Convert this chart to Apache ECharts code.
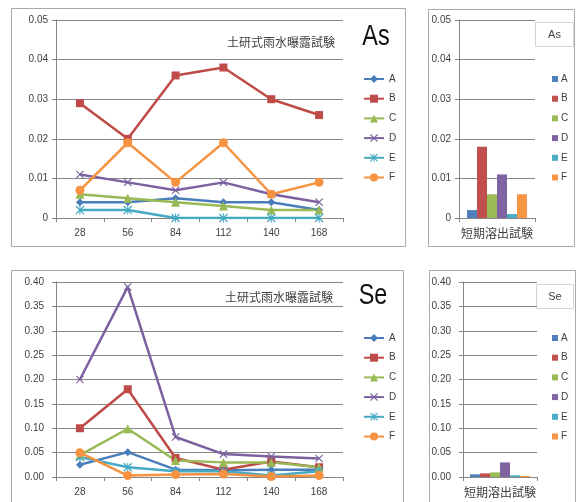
<!DOCTYPE html>
<html><head><meta charset="utf-8">
<script src="https://cdn.jsdelivr.net/npm/echarts@6/dist/echarts.min.js"></script>
<style>
html,body{margin:0;padding:0;background:#fff;width:578px;height:502px;overflow:hidden}
.c{position:absolute;left:0;top:0;width:578px;height:502px}
</style>
</head><body>
<div id="c1" class="c"></div>
<div id="c2" class="c"></div>
<div id="c3" class="c"></div>
<div id="c4" class="c"></div>
<script>
// ---- data ----
const days = ['28', '56', '84', '112', '140', '168'];
const seriesNames = ['A', 'B', 'C', 'D', 'E', 'F'];
const rainTitle = '土研式雨水曝露試験';
const shortTitle = '短期溶出試験';

const rainAsA = [0.004, 0.004, 0.005, 0.004, 0.004, 0.002];
const rainAsB = [0.029, 0.020, 0.036, 0.038, 0.030, 0.026];
const rainAsC = [0.006, 0.005, 0.004, 0.003, 0.002, 0.002];
const rainAsD = [0.011, 0.009, 0.007, 0.009, 0.006, 0.004];
const rainAsE = [0.002, 0.002, 0.000, 0.000, 0.000, 0.000];
const rainAsF = [0.007, 0.019, 0.009, 0.019, 0.006, 0.009];

const rainSeA = [0.025, 0.051, 0.015, 0.014, 0.015, 0.015];
const rainSeB = [0.100, 0.180, 0.039, 0.015, 0.032, 0.020];
const rainSeC = [0.045, 0.099, 0.034, 0.030, 0.030, 0.020];
const rainSeD = [0.200, 0.390, 0.082, 0.047, 0.042, 0.038];
const rainSeE = [0.041, 0.020, 0.012, 0.012, 0.003, 0.012];
const rainSeF = [0.050, 0.003, 0.005, 0.006, 0.001, 0.003];

const shortAs = [0.002, 0.018, 0.006, 0.011, 0.001, 0.006];
const shortSe = [0.0055, 0.0075, 0.0095, 0.030, 0.0035, 0.002];

const asTicks = [0, 0.05, 0.01];   // min, max, interval
const seTicks = [0, 0.40, 0.05];

// ---- styles ----
const lineColors = ['#4A7EBB', '#BE4B48', '#98B954', '#7D60A0', '#46AAC5', '#F69240'];
const barColors = ['#4F81BD', '#C0504D', '#9BBB59', '#8064A2', '#4BACC6', '#F79646'];
const X_PATH = 'path://M0,1L1,0L5,4L9,0L10,1L6,5L10,9L9,10L5,6L1,10L0,9L4,5Z';
const STAR_PATH = 'path://M0,1L1,0L5,4L9,0L10,1L6,5L10,9L9,10L5,6L1,10L0,9L4,5Z M4.4,0L5.6,0L5.6,10L4.4,10Z';
const symbols = ['diamond', 'rect', 'triangle', X_PATH, STAR_PATH, 'circle'];
const symbolSizes = [8, 8, 9, 8, 9, 9];
const FONT = "'Liberation Sans', Arial, sans-serif";
const CJK = "'Noto Sans CJK JP', sans-serif";
const AX = '#868686';
const TXT = '#404040';

function yAxis(t, margin, fmt) {
  return {
    type: 'value', min: t[0], max: t[1], interval: t[2],
    axisLine: { show: true, lineStyle: { color: AX, width: 1 } },
    axisTick: { show: true, length: 4, lineStyle: { color: AX } },
    splitLine: { show: true, lineStyle: { color: AX, width: 1 } },
    axisLabel: { color: TXT, fontSize: 10, fontFamily: FONT, margin: margin, formatter: fmt }
  };
}

function lineChart(id, p) {
  const chart = echarts.init(document.getElementById(id), null, { renderer: 'canvas' });
  const series = p.data.map((d, i) => ({
    name: seriesNames[i], type: 'line', data: d,
    symbol: symbols[i], symbolSize: symbolSizes[i], showSymbol: true,
    itemStyle: { color: lineColors[i] },
    lineStyle: { color: lineColors[i], width: 2.5 },
    emphasis: { disabled: true }
  }));
  chart.setOption({
    animation: false,
    grid: { left: p.grid[0], top: p.grid[1], width: p.grid[2], height: p.grid[3], containLabel: false },
    xAxis: {
      type: 'category', data: days, boundaryGap: true,
      axisLine: { show: true, lineStyle: { color: AX } },
      axisTick: { show: true, length: 4, lineStyle: { color: AX } },
      axisLabel: { color: TXT, fontSize: 10, fontFamily: FONT, margin: 10 }
    },
    yAxis: yAxis(p.ticks, p.ymargin, p.fmt),
    legend: {
      orient: 'vertical', left: 358, top: p.legendTop,
      itemWidth: 20, itemHeight: 10, itemGap: 9.7,
      textStyle: { color: TXT, fontSize: 10, fontFamily: FONT, lineHeight: 10 },
      data: seriesNames, selectedMode: false
    },
    graphic: [
      { type: 'rect', silent: true, shape: p.border, style: { fill: 'none', stroke: '#a9a9a9', lineWidth: 1 } },
      { type: 'text', silent: true, x: p.titlePos[0], y: p.titlePos[1],
        style: { text: rainTitle, font: '12px ' + CJK, fill: TXT, align: 'center', verticalAlign: 'middle' } },
      { type: 'text', silent: true, x: p.bigPos[0], y: p.bigPos[1], scaleX: 0.78,
        style: { text: p.big, font: '30px ' + FONT, fill: '#111', align: 'center', verticalAlign: 'middle' } }
    ],
    series: series
  });
}

function barChart(id, p) {
  const chart = echarts.init(document.getElementById(id), null, { renderer: 'canvas' });
  const series = p.data.map((v, i) => ({
    name: seriesNames[i], type: 'bar', data: [v],
    barWidth: 10, barGap: '0%',
    itemStyle: { color: barColors[i] },
    emphasis: { disabled: true }
  }));
  chart.setOption({
    animation: false,
    grid: { left: p.grid[0], top: p.grid[1], width: p.grid[2], height: p.grid[3], containLabel: false },
    xAxis: {
      type: 'category', data: [shortTitle], boundaryGap: true,
      axisLine: { show: true, lineStyle: { color: AX } },
      axisTick: { show: true, length: 4, lineStyle: { color: AX } },
      axisLabel: { color: TXT, fontSize: 12, fontFamily: CJK, margin: 9 }
    },
    yAxis: yAxis(p.ticks, p.ymargin, p.fmt),
    legend: {
      orient: 'vertical', left: 547, top: p.legendTop, icon: 'rect',
      itemWidth: 6, itemHeight: 6, itemGap: 9.7,
      textStyle: { color: TXT, fontSize: 10, fontFamily: FONT, lineHeight: 10, padding: [0, 0, 0, -2] },
      data: seriesNames, selectedMode: false
    },
    graphic: [
      { type: 'rect', silent: true, shape: p.border, style: { fill: 'none', stroke: '#a9a9a9', lineWidth: 1 } },
      { type: 'rect', silent: true, shape: p.box, style: { fill: '#fff', stroke: '#d4d4d4', lineWidth: 1 } },
      { type: 'text', silent: true, x: p.box.x + p.box.width / 2, y: p.box.y + p.box.height / 2,
        style: { text: p.label, font: '11px ' + FONT, fill: TXT, align: 'center', verticalAlign: 'middle' } }
    ],
    series: series
  });
}

lineChart('c1', {
  data: [rainAsA, rainAsB, rainAsC, rainAsD, rainAsE, rainAsF],
  grid: [56, 20, 287, 198], ticks: asTicks, ymargin: 8, fmt: null,
  legendTop: 69, border: { x: 11.5, y: 8.5, width: 394, height: 238 },
  titlePos: [281, 42], big: 'As', bigPos: [376, 37]
});
barChart('c2', {
  data: shortAs,
  grid: [459, 20, 76, 198], ticks: asTicks, ymargin: 8, fmt: null,
  legendTop: 69, border: { x: 428.5, y: 9.5, width: 146, height: 237 },
  box: { x: 535.5, y: 22.5, width: 38, height: 24 }, label: 'As'
});
lineChart('c3', {
  data: [rainSeA, rainSeB, rainSeC, rainSeD, rainSeE, rainSeF],
  grid: [56, 282, 287, 195], ticks: seTicks, ymargin: 12, fmt: v => v.toFixed(2),
  legendTop: 328, border: { x: 11.5, y: 270.5, width: 392, height: 260 },
  titlePos: [279, 297], big: 'Se', bigPos: [373, 295.5]
});
barChart('c4', {
  data: shortSe,
  grid: [463, 282, 74, 195], ticks: seTicks, ymargin: 12, fmt: v => v.toFixed(2),
  legendTop: 328, border: { x: 429.5, y: 270.5, width: 146, height: 260 },
  box: { x: 536.5, y: 284.5, width: 37, height: 24 }, label: 'Se'
});
</script>
</body></html>
